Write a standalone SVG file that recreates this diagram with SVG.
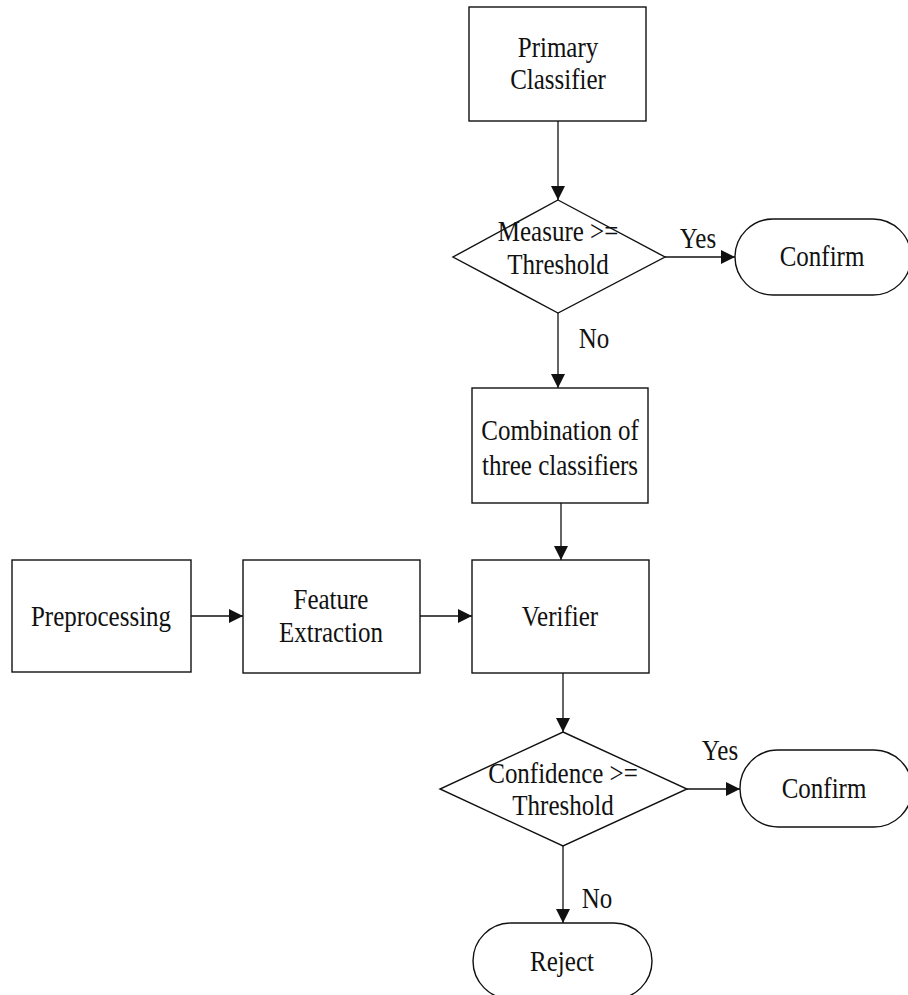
<svg xmlns="http://www.w3.org/2000/svg" width="908" height="995" viewBox="0 0 908 995">
<defs>
<marker id="ah" markerUnits="userSpaceOnUse" markerWidth="14" markerHeight="15" viewBox="0 0 14 15" refX="14" refY="7.5" orient="auto">
<path d="M0,0.5 L14,7.5 L0,14.5 Z" fill="#111"/>
</marker>
<style>
.s{fill:#fff;stroke:#111;stroke-width:1.4}
.t{font-family:"Liberation Serif","Times New Roman",serif;font-size:25px;fill:#111;text-anchor:middle}
.c{stroke:#111;stroke-width:1.3;fill:none;marker-end:url(#ah)}
</style>
</defs>
<rect width="908" height="995" fill="#fff"/>
<g id="connectors">
<line class="c" x1="558" y1="121" x2="558" y2="200"/>
<line class="c" x1="665" y1="257" x2="735" y2="257"/>
<line class="c" x1="558" y1="313" x2="558" y2="388"/>
<line class="c" x1="561" y1="503" x2="561" y2="560"/>
<line class="c" x1="191" y1="616" x2="243" y2="616"/>
<line class="c" x1="420" y1="616" x2="472" y2="616"/>
<line class="c" x1="563" y1="673" x2="563" y2="732"/>
<line class="c" x1="687" y1="789" x2="740" y2="789"/>
<line class="c" x1="563" y1="846" x2="563" y2="923"/>
<text class="t" transform="translate(698,248) scale(1,1.17)">Yes</text>
<text class="t" transform="translate(594,348) scale(1,1.17)">No</text>
<text class="t" transform="translate(720,760) scale(1,1.17)">Yes</text>
<text class="t" transform="translate(597,908) scale(1,1.17)">No</text>
</g>
<g id="primary">
<rect class="s" x="469" y="7" width="177" height="114"/>
<text class="t" transform="translate(558,57) scale(1,1.17)">Primary</text>
<text class="t" transform="translate(558,89) scale(1,1.17)">Classifier</text>
</g>
<g id="decision1">
<polygon class="s" points="558,200 665,257 558,313 453,257"/>
<text class="t" transform="translate(558,241) scale(1,1.17)">Measure &gt;=</text>
<text class="t" transform="translate(558,274) scale(1,1.17)">Threshold</text>
</g>
<g id="confirm1">
<rect class="s" x="735" y="219" width="176" height="76" rx="38" ry="38"/>
<text class="t" transform="translate(822,266) scale(1,1.17)">Confirm</text>
</g>
<g id="combination">
<rect class="s" x="472" y="388" width="176" height="115"/>
<text class="t" transform="translate(560,440) scale(1,1.17)">Combination of</text>
<text class="t" transform="translate(560,475) scale(1,1.17)">three classifiers</text>
</g>
<g id="preprocessing">
<rect class="s" x="12" y="560" width="179" height="112"/>
<text class="t" transform="translate(101,626) scale(1,1.17)">Preprocessing</text>
</g>
<g id="feature">
<rect class="s" x="243" y="560" width="177" height="113"/>
<text class="t" transform="translate(331,609) scale(1,1.17)">Feature</text>
<text class="t" transform="translate(331,642) scale(1,1.17)">Extraction</text>
</g>
<g id="verifier">
<rect class="s" x="472" y="560" width="177" height="113"/>
<text class="t" transform="translate(560,626) scale(1,1.17)">Verifier</text>
</g>
<g id="decision2">
<polygon class="s" points="563,732 687,789 563,846 440,789"/>
<text class="t" transform="translate(563,783) scale(1,1.17)">Confidence &gt;=</text>
<text class="t" transform="translate(563,815) scale(1,1.17)">Threshold</text>
</g>
<g id="confirm2">
<rect class="s" x="740" y="750" width="172" height="77" rx="38" ry="38"/>
<text class="t" transform="translate(824,798) scale(1,1.17)">Confirm</text>
</g>
<g id="reject">
<rect class="s" x="473" y="923" width="179" height="76" rx="38" ry="38"/>
<text class="t" transform="translate(562,971) scale(1,1.17)">Reject</text>
</g>
</svg>
